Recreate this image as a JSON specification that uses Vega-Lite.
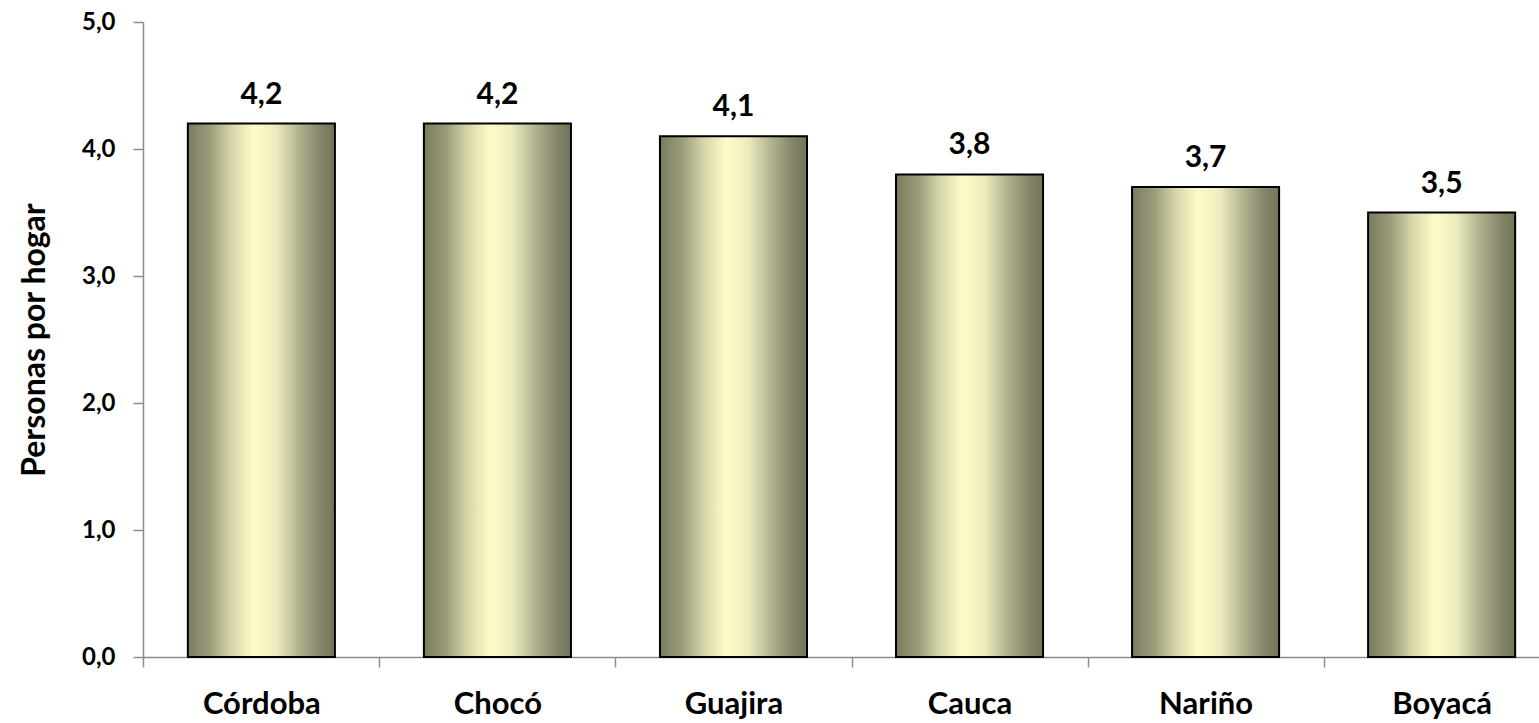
{
  "$schema": "https://vega.github.io/schema/vega-lite/v6.json",
  "width": 1396,
  "height": 635,
  "autosize": {"type": "none"},
  "padding": {"left": 143, "top": 22, "right": 0, "bottom": 66},
  "background": "white",
  "config": {
    "view": {"stroke": null},
    "locale": {"number": {"decimal": ",", "thousands": ".", "grouping": [3], "currency": ["", " €"]}},
    "font": "Lato"
  },
  "data": {
    "values": [
      {"depto": "Córdoba", "personas": 4.2},
      {"depto": "Chocó", "personas": 4.2},
      {"depto": "Guajira", "personas": 4.1},
      {"depto": "Cauca", "personas": 3.8},
      {"depto": "Nariño", "personas": 3.7},
      {"depto": "Boyacá", "personas": 3.5}
    ]
  },
  "encoding": {
    "x": {
      "field": "depto",
      "type": "nominal",
      "sort": null,
      "scale": {"range": [0, 1417], "paddingInner": 0.377, "paddingOuter": 0.19},
      "axis": {
        "title": null,
        "labelAngle": 0,
        "labelFont": "Lato",
        "labelFontSize": 31,
        "labelFontWeight": "bold",
        "labelColor": "black",
        "labelPadding": 22,
        "labelOffset": 118,
        "domainColor": "#8c8c8c",
        "domainWidth": 1.5,
        "tickColor": "#8c8c8c",
        "tickWidth": 1.5,
        "tickSize": 10,
        "tickOffset": -118
      }
    },
    "y": {
      "field": "personas",
      "type": "quantitative",
      "scale": {"domain": [0, 5]},
      "axis": {
        "title": "Personas por hogar",
        "titleFont": "Lato",
        "titleFontSize": 32,
        "titleFontWeight": "bold",
        "titleColor": "black",
        "titlePadding": 30,
        "values": [0, 1, 2, 3, 4, 5],
        "format": ".1f",
        "grid": false,
        "labelFont": "Lato",
        "labelFontSize": 24,
        "labelFontWeight": "bold",
        "labelColor": "black",
        "labelPadding": 18,
        "domainColor": "#8c8c8c",
        "domainWidth": 1.5,
        "tickColor": "#8c8c8c",
        "tickWidth": 1.5,
        "tickSize": 10
      }
    }
  },
  "layer": [
    {
      "mark": {
        "type": "bar",
        "stroke": "black",
        "strokeWidth": 2,
        "color": {
          "gradient": "linear",
          "x1": 0, "y1": 0, "x2": 1, "y2": 0,
          "stops": [
            {"offset": 0, "color": "#7a7a5e"},
            {"offset": 0.15, "color": "#9c9c7c"},
            {"offset": 0.3, "color": "#d6d6aa"},
            {"offset": 0.45, "color": "#fdfdca"},
            {"offset": 0.6, "color": "#ececbe"},
            {"offset": 0.75, "color": "#b4b492"},
            {"offset": 0.9, "color": "#85856a"},
            {"offset": 1, "color": "#74745a"}
          ]
        }
      }
    },
    {
      "mark": {"type": "text", "baseline": "alphabetic", "dy": -20, "font": "Lato", "fontSize": 30, "fontWeight": "bold", "color": "black"},
      "encoding": {"text": {"field": "personas", "type": "quantitative", "format": ".1f"}}
    }
  ]
}
